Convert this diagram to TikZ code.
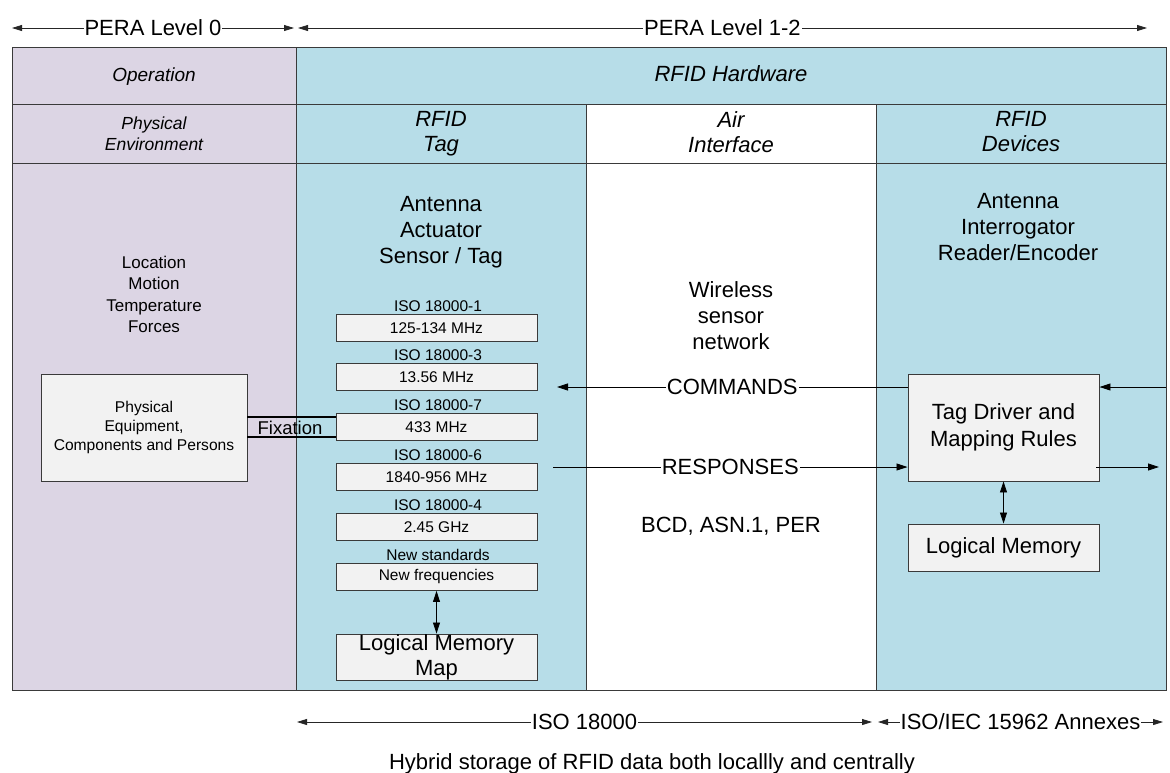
\documentclass[tikz,border=0pt]{standalone}
\usepackage{fontspec}
\setmainfont{Liberation Sans}
\usetikzlibrary{arrows.meta}

\definecolor{lav}{HTML}{DCD5E4}
\definecolor{aqua}{HTML}{B7DDE8}
\definecolor{boxgray}{HTML}{F2F2F2}
\definecolor{edge}{HTML}{3A3A3A}

\newcommand\fbig{\fontsize{22}{26.3}\selectfont}
\newcommand\fhead{\fontsize{22}{25}\selectfont\itshape}
\newcommand\fop{\fontsize{19}{22}\selectfont\itshape}
\newcommand\fsub{\fontsize{17.5}{21}\selectfont\itshape}
\newcommand\flist{\fontsize{17}{21.3}\selectfont}
\newcommand\fsmall{\fontsize{15.5}{19}\selectfont}
\newcommand\ffix{\fontsize{18.5}{22}\selectfont}

\tikzset{
  cell/.style={draw=edge, line width=0.9pt},
  txt/.style={inner sep=0pt, align=center, text=black},
  bandbox/.style={draw=edge, line width=0.9pt, fill=boxgray, inner sep=0pt,
    minimum width=201pt, minimum height=27pt, font=\fsmall, align=center},
  bigbox/.style={draw=edge, line width=0.9pt, fill=boxgray, inner sep=0pt,
    align=center},
  dimarrow/.style={draw=black!85, line width=0.8pt,
    {Triangle[length=10pt,width=6pt]}-{Triangle[length=10pt,width=6pt]}},
  arr/.style={draw=black, line width=0.8pt, -{Triangle[length=11pt,width=7pt]}},
  darr/.style={draw=black, line width=0.8pt,
    {Triangle[length=11pt,width=7pt]}-{Triangle[length=11pt,width=7pt]}},
  lbl/.style={fill=white, inner xsep=1pt, inner ysep=2pt, font=\fbig, text=black},
  fixline/.style={draw=black, line width=2pt}
}

\begin{document}
\begin{tikzpicture}[x=1pt, y=-1pt]
\useasboundingbox (0,0) rectangle (1170,772);
\fill[white] (0,0) rectangle (1170,772);

% column backgrounds
\fill[lav]  (12,47) rectangle (296,690);
\fill[aqua] (296,47) rectangle (1166,690);
\fill[white] (586,104) rectangle (876,690);

% table grid
\draw[cell] (12,47) rectangle (1166,690);
\draw[cell] (12,104) -- (1166,104);
\draw[cell] (12,163) -- (1166,163);
\draw[cell] (296,47) -- (296,690);
\draw[cell] (586,104) -- (586,690);
\draw[cell] (876,104) -- (876,690);

% PERA levels above the table
\coordinate (l0a) at (12,28);
\coordinate (l0b) at (294,28);
\coordinate (l12a) at (298,28);
\coordinate (l12b) at (1147,28);
\draw[dimarrow] (l0a) -- (l0b) node[lbl, midway] (pera0) {PERA Level 0};
\draw[dimarrow] (l12a) -- (l12b) node[lbl, midway] (pera12) {PERA Level 1-2};

% header rows
\node[txt, font=\fop, anchor=base] (hop) at (154,81) {Operation};
\node[txt, font=\fhead, anchor=base] (hhw) at (731,81) {RFID Hardware};
\node[txt, font=\fsub, anchor=north] (henv) at (154,116.5) {Physical\\Environment};
\node[txt, font=\fhead, anchor=north] (htag) at (441,111) {RFID\\Tag};
\node[txt, font=\fhead, anchor=north] (hair) at (731,111) {Air\\Interface};
\node[txt, font=\fhead, anchor=north] (hdev) at (1021,111) {RFID\\Devices};

% physical environment column
\node[txt, font=\flist, anchor=north] (envlist) at (154,256)
  {Location\\Motion\\Temperature\\Forces};
\node[bigbox, minimum width=206pt, minimum height=107pt,
  font=\fontsize{15.6}{19}\selectfont] (pe) at (144,427.5)
  {Physical\\Equipment,\\Components and Persons};

% tag column
\node[txt, font=\fbig, anchor=north] (tagtitle) at (441,196)
  {Antenna\\Actuator\\Sensor / Tag};
\foreach \nm/\top/\std/\frq in {
    f1/314/ISO 18000-1/125-134 MHz,
    f2/363/ISO 18000-3/13.56 MHz,
    f3/413/ISO 18000-7/433 MHz,
    f4/463/ISO 18000-6/1840-956 MHz,
    f5/513/ISO 18000-4/2.45 GHz,
    f6/563/New standards/New frequencies} {
  \node[bandbox, anchor=north] (\nm) at (436.5,\top) {\frq};
  \node[txt, font=\fsmall, anchor=base] (\nm s) at (438,\top-2.5) {\std};
}
\node[bigbox, minimum width=201pt, minimum height=46pt,
  font=\fontsize{22}{25}\selectfont] (lmm) at (436.5,657) {Logical Memory\\Map};
\draw[darr] (f6.south) -- (lmm.north);

% fixation of the tag to the equipment
\draw[fixline] ([yshift=10.5pt]pe.east) -- ([yshift=10.5pt]pe.east -| f3.west);
\draw[fixline] ([yshift=-9.5pt]pe.east) -- ([yshift=-9.5pt]pe.east -| f3.west);
\node[txt, font=\ffix] (fix) at (290,428) {Fixation};

% air interface column
\node[txt, font=\fbig, anchor=north] (wsn) at (731,281)
  {Wireless\\sensor\\network};
\node[txt, font=\fbig, anchor=base] (enc) at (731,532) {BCD, ASN.1, PER};

% devices column
\node[txt, font=\fbig, anchor=north] (devtitle) at (1018,193)
  {Antenna\\Interrogator\\Reader/Encoder};
\node[bigbox, minimum width=191pt, minimum height=107pt,
  font=\fontsize{22}{26.5}\selectfont] (tdr) at (1003.5,427.5)
  {Tag Driver and\\Mapping Rules};
\node[bigbox, minimum width=191pt, minimum height=47pt, font=\fbig]
  (lm) at (1003.5,547.5) {Logical Memory};
\draw[darr] (tdr.south) -- (lm.north);

% commands and responses across the air interface
\coordinate (cmdEnd) at (557,387);
\coordinate (rspStart) at (553,467);
\coordinate (inR) at (1166,387);
\coordinate (outR) at (1159,467);
\draw[arr] (tdr.west |- cmdEnd) -- (cmdEnd)
  node[lbl, midway] (cmd) {COMMANDS};
\draw[arr] (rspStart) -- (rspStart -| tdr.west)
  node[lbl, midway] (rsp) {RESPONSES};
\draw[arr] (inR) -- (inR -| tdr.east);
\draw[arr] ([xshift=-3pt]tdr.east |- outR) -- (outR);

% standards below the table
\coordinate (isoa) at (297,722);
\coordinate (isob) at (872,722);
\coordinate (ieca) at (878,722);
\coordinate (iecb) at (1163,722);
\draw[dimarrow] (isoa) -- (isob) node[lbl, midway] (iso) {ISO 18000};
\draw[dimarrow] (ieca) -- (iecb) node[lbl, midway] (iec) {ISO/IEC 15962 Annexes};

\node[txt, font=\fbig, anchor=base] (caption) at (652,769)
  {Hybrid storage of RFID data both locallly and centrally};
\end{tikzpicture}
\end{document}
